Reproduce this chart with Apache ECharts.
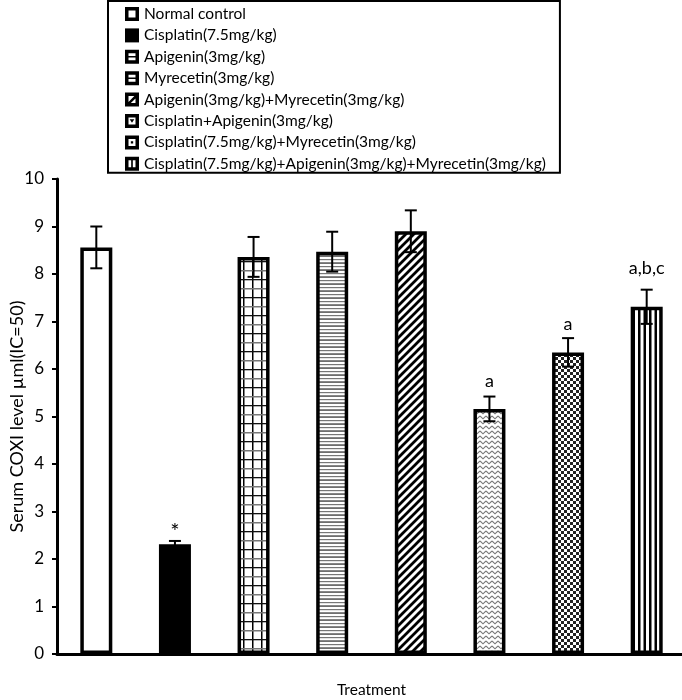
<!DOCTYPE html>
<html>
<head>
<meta charset="utf-8">
<script src="https://cdn.jsdelivr.net/npm/echarts@6/dist/echarts.min.js"></script>
<style>html,body{margin:0;padding:0;background:#fff;}#chart{width:682px;height:700px;}</style>
</head>
<body>
<div id="chart"></div>
<script>
// ---- data ----
var categories = ['Normal control', 'Cisplatin(7.5mg/kg)', 'Apigenin(3mg/kg)', 'Myrecetin(3mg/kg)',
  'Apigenin(3mg/kg)+Myrecetin(3mg/kg)', 'Cisplatin+Apigenin(3mg/kg)',
  'Cisplatin(7.5mg/kg)+Myrecetin(3mg/kg)', 'Cisplatin(7.5mg/kg)+Apigenin(3mg/kg)+Myrecetin(3mg/kg)'];
var values = [8.56, 2.31, 8.36, 8.47, 8.90, 5.16, 6.35, 7.31];
var errors = [0.44, 0.07, 0.42, 0.42, 0.44, 0.26, 0.30, 0.36];
var sigLabels = ['', '*', '', '', '', 'a', 'a', 'a,b,c'];
var yTicks = [0, 1, 2, 3, 4, 5, 6, 7, 8, 9, 10];

// ---- styles ----
var FONT = 'Lato';
var labelGap = [14, 13, 14, 14, 14, 15, 14, 21];

function makePattern(w, h, draw) {
  var c = document.createElement('canvas');
  c.width = w; c.height = h;
  var ctx = c.getContext('2d');
  ctx.fillStyle = '#fff';
  ctx.fillRect(0, 0, w, h);
  draw(ctx);
  return { image: c, repeat: 'repeat' };
}
var fills = [
  '#fff',
  '#000',
  makePattern(9, 18, function (ctx) {
    ctx.fillStyle = '#000'; ctx.fillRect(0, 0, 1.5, 18);
    ctx.fillStyle = '#777'; ctx.fillRect(0, 0, 9, 1.5);
    ctx.fillStyle = '#111'; ctx.fillRect(0, 9, 9, 1.3);
  }),
  makePattern(4, 7, function (ctx) {
    ctx.fillStyle = '#777'; ctx.fillRect(0, 0, 4, 1.2);
    ctx.fillStyle = '#111'; ctx.fillRect(0, 3.5, 4, 1.1);
  }),
  makePattern(8, 8, function (ctx) {
    ctx.strokeStyle = '#000'; ctx.lineWidth = 2.8;
    ctx.beginPath();
    ctx.moveTo(-4, 4); ctx.lineTo(4, -4);
    ctx.moveTo(0, 8); ctx.lineTo(8, 0);
    ctx.moveTo(4, 12); ctx.lineTo(12, 4);
    ctx.stroke();
  }),
  makePattern(6, 5, function (ctx) {
    ctx.strokeStyle = '#777'; ctx.lineWidth = 1.1;
    ctx.beginPath();
    ctx.moveTo(0, 1); ctx.lineTo(3, 3.8); ctx.lineTo(6, 1);
    ctx.stroke();
  }),
  makePattern(6, 6, function (ctx) {
    ctx.fillStyle = '#222';
    ctx.fillRect(0, 0, 3, 3); ctx.fillRect(3, 3, 3, 3);
  }),
  makePattern(11, 4, function (ctx) {
    ctx.fillStyle = '#000';
    ctx.fillRect(0, 0, 2.5, 4); ctx.fillRect(5.5, 0, 2.5, 4);
  })
];
var OUT = 'M0,0L12,0L12,12L0,12Z';
var HOLE = 'M3,3L3,9L9,9L9,3Z';
var icons = [
  OUT + HOLE,
  OUT,
  OUT + 'M3,3L3,5.3L9,5.3L9,3Z M3,6.7L3,9L9,9L9,6.7Z',
  OUT + 'M3,3L3,5.3L9,5.3L9,3Z M3,6.7L3,9L9,9L9,6.7Z',
  OUT + 'M3,3L3,8L8,3Z M9,5L5,9L9,9Z',
  OUT + HOLE + 'M4,4.5L8,4.5L6,7.5Z',
  OUT + HOLE + 'M5,5L7,5L7,7L5,7Z',
  OUT + 'M3,3L3,9L5.3,9L5.3,3Z M6.7,3L6.7,9L9,9L9,3Z'
];

var series = categories.map(function (name, i) {
  return {
    name: name,
    type: 'bar',
    stack: 'one',
    barWidth: 32,
    data: values.map(function (v, j) { return j === i ? v : '-'; }),
    itemStyle: { color: fills[i], borderColor: '#000', borderWidth: 3.5 },
    emphasis: { disabled: true },
    animation: false
  };
});
series.push({
  type: 'custom',
  z: 10,
  animation: false,
  data: values.map(function (v, i) { return [i, v, errors[i]]; }),
  encode: { x: 0, y: 1 },
  renderItem: function (params, api) {
    var i = api.value(0), v = api.value(1), e = api.value(2);
    var top = api.coord([i, v + e]);
    var bot = api.coord([i, v - e]);
    var cap = 6;
    var style = { stroke: '#000', lineWidth: 2 };
    var children = [
      { type: 'line', shape: { x1: top[0], y1: top[1], x2: bot[0], y2: bot[1] }, style: style },
      { type: 'line', shape: { x1: top[0] - cap, y1: top[1], x2: top[0] + cap, y2: top[1] }, style: style },
      { type: 'line', shape: { x1: bot[0] - cap, y1: bot[1], x2: bot[0] + cap, y2: bot[1] }, style: style }
    ];
    var lab = sigLabels[params.dataIndex];
    if (lab) {
      var isStar = lab === '*';
      children.push({
        type: 'text',
        style: {
          x: top[0], y: top[1] - labelGap[params.dataIndex] + (isStar ? 4 : 0), text: lab,
          fill: '#000', font: (isStar ? '22px ' : '18px ') + FONT, align: 'center', verticalAlign: 'middle'
        }
      });
    }
    return { type: 'group', children: children };
  }
});

var chart = echarts.init(document.getElementById('chart'), null, { renderer: 'canvas' });
chart.setOption({
  backgroundColor: '#fff',
  animation: false,
  textStyle: { fontFamily: FONT },
  grid: { left: 57, right: -4, top: 179, bottom: 46, containLabel: false, outerBoundsMode: 'none' },
  legend: {
    orient: 'vertical',
    left: 108,
    top: 1,
    padding: [5, 14, 1, 17],
    itemGap: 5.4,
    itemWidth: 14,
    itemHeight: 14,
    backgroundColor: '#fff',
    borderColor: '#000',
    borderWidth: 2,
    selectedMode: false,
    textStyle: { fontFamily: FONT, fontSize: 15.5, color: '#000', lineHeight: 14 },
    data: categories.map(function (c, i) {
      return { name: c, icon: 'path://' + icons[i], itemStyle: { color: '#000', borderWidth: 0 } };
    })
  },
  xAxis: {
    type: 'category',
    data: categories,
    name: 'Treatment',
    nameLocation: 'middle',
    nameGap: 28,
    nameTextStyle: { fontFamily: FONT, fontSize: 15.5, color: '#000' },
    axisLine: { lineStyle: { color: '#000', width: 3 } },
    axisTick: { show: false },
    axisLabel: { show: false },
    splitLine: { show: false }
  },
  yAxis: {
    type: 'value',
    min: yTicks[0],
    max: yTicks[yTicks.length - 1],
    interval: 1,
    name: 'Serum COXI level µml(IC=50)',
    nameLocation: 'middle',
    nameGap: 31,
    nameMoveOverlap: false,
    nameRotate: 90,
    nameTextStyle: { fontFamily: FONT, fontSize: 18, color: '#000' },
    axisLine: { show: true, lineStyle: { color: '#000', width: 3 } },
    axisTick: { show: true, inside: false, length: 5, lineStyle: { color: '#000', width: 2 } },
    axisLabel: { color: '#000', fontSize: 17, fontFamily: FONT, margin: 13 },
    splitLine: { show: false }
  },
  series: series
});
</script>
</body>
</html>
